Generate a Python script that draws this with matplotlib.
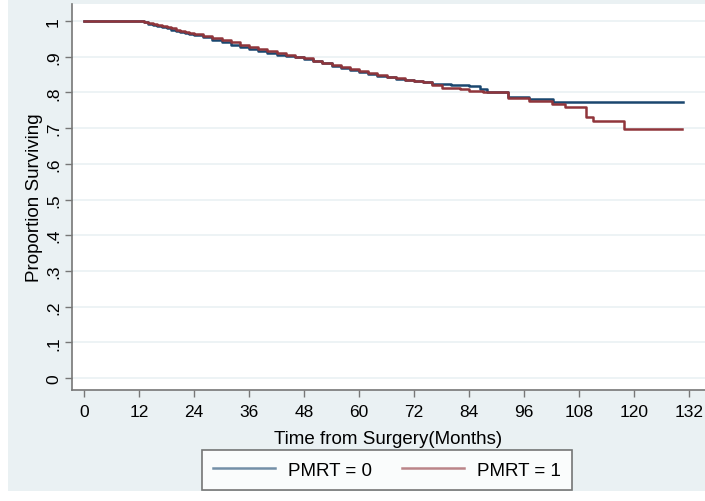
import matplotlib
matplotlib.use("Agg")
import matplotlib.pyplot as plt
from matplotlib.patches import Rectangle

plt.rcParams['font.family'] = ['Liberation Sans', 'DejaVu Sans']

# PMRT = 0 (step times in months, survival)
t0 = [0, 12, 13, 14, 15, 16, 17, 18, 19, 20, 21, 22, 23, 24, 26, 28, 30, 32, 34, 36,
      38, 40, 42, 44, 46, 48, 50, 52, 54, 56, 58, 60, 62, 64, 66, 68, 70, 72, 74,
      76, 80, 84, 86.4, 88, 92.5, 97, 102.3, 130.6]
s0 = [1.0, 1.0, 0.996, 0.992, 0.989, 0.986, 0.983, 0.979, 0.976, 0.973, 0.970, 0.967, 0.963, 0.960,
      0.954, 0.948, 0.941, 0.934, 0.927, 0.921, 0.916, 0.911, 0.906, 0.902, 0.898, 0.893,
      0.887, 0.881, 0.875, 0.869, 0.863, 0.857, 0.852, 0.847, 0.842, 0.838, 0.835, 0.832,
      0.829, 0.823, 0.821, 0.819, 0.810, 0.800, 0.788, 0.782, 0.772, 0.772]

# PMRT = 1
t1 = [0, 12, 13, 14, 15, 16, 17, 18, 19, 20, 21, 22, 23, 24, 26, 28, 30, 32, 34, 36,
      38, 40, 42, 44, 46, 48, 50, 52, 54, 56, 58, 60, 62, 64, 66, 68, 70, 72, 74,
      76, 78, 82, 84, 87, 92.5, 97, 102, 105, 109.5, 111, 117.8, 130.4]
s1 = [1.0, 1.0, 0.997, 0.994, 0.991, 0.988, 0.985, 0.982, 0.979, 0.976, 0.973, 0.970, 0.967, 0.964,
      0.958, 0.952, 0.946, 0.940, 0.934, 0.928, 0.922, 0.916, 0.910, 0.905, 0.900, 0.895,
      0.889, 0.883, 0.877, 0.871, 0.865, 0.859, 0.853, 0.848, 0.843, 0.839, 0.836, 0.833,
      0.830, 0.820, 0.813, 0.810, 0.805, 0.800, 0.783, 0.777, 0.767, 0.758, 0.732, 0.719,
      0.697, 0.697]

labels = ['PMRT = 0', 'PMRT = 1']
colors = ['#1a476f', '#90353b']
xticks = list(range(0, 133, 12))
yticks = [0, 0.1, 0.2, 0.3, 0.4, 0.5, 0.6, 0.7, 0.8, 0.9, 1.0]
ytick_labels = ['0', '.1', '.2', '.3', '.4', '.5', '.6', '.7', '.8', '.9', '1']

W, H = 705, 502
fig = plt.figure(figsize=(W / 100, H / 100), dpi=100)
fig.patch.set_facecolor('white')
bg = Rectangle((8 / W, (H - 492) / H), 1 - 8 / W, 492 / H, transform=fig.transFigure,
               facecolor='#eaf1f3', edgecolor='none', zorder=0)
fig.patches.append(bg)

ax = fig.add_axes([72 / W, (H - 391) / H, (705 - 72) / W, (391 - 5) / H])
ax.set_facecolor('white')
ax.set_zorder(1)

ax.step(t0, s0, where='post', color=colors[0], lw=1.8, label=labels[0], zorder=3)
ax.step(t1, s1, where='post', color=colors[1], lw=1.8, label=labels[1], zorder=4)

x0 = (72 - 84) / (605 / 132)
x1 = (705 - 84) / (605 / 132)
ax.set_xlim(x0, x1)
ax.set_ylim((379 - 391) / 357, (379 - 5) / 357)

ax.set_xticks(xticks)
ax.set_xticklabels([str(v) for v in xticks], fontsize=12.5)
ax.set_yticks(yticks)
ax.set_yticklabels(ytick_labels, fontsize=12.5, rotation=90, va='center')
ax.tick_params(axis='both', direction='out', length=5, width=1, color='#777777')
ax.tick_params(axis='x', pad=5)
ax.tick_params(axis='y', pad=3)

for y in yticks:
    ax.axhline(y, color='#eaf1f3', lw=1.2, zorder=1)

for side in ['top', 'right']:
    ax.spines[side].set_visible(False)
for side in ['left', 'bottom']:
    ax.spines[side].set_color('#777777')
    ax.spines[side].set_linewidth(1.2)

ax.set_xlabel('Time from Surgery(Months)', fontsize=13.5, labelpad=8)
ax.set_ylabel('Proportion Surviving', fontsize=13.5, labelpad=2)

leg = fig.legend(loc='center', bbox_to_anchor=(387 / W, 1 - 471 / H), ncol=2,
                 fontsize=13.5, frameon=True, fancybox=False, handlelength=3.3,
                 columnspacing=1.6, borderpad=0.6, handletextpad=0.7)
leg.get_frame().set_edgecolor('#555555')
leg.get_frame().set_linewidth(1.2)
for l in leg.get_lines():
    l.set_alpha(0.6)

fig.savefig('out.png', dpi=100, facecolor=fig.get_facecolor())
